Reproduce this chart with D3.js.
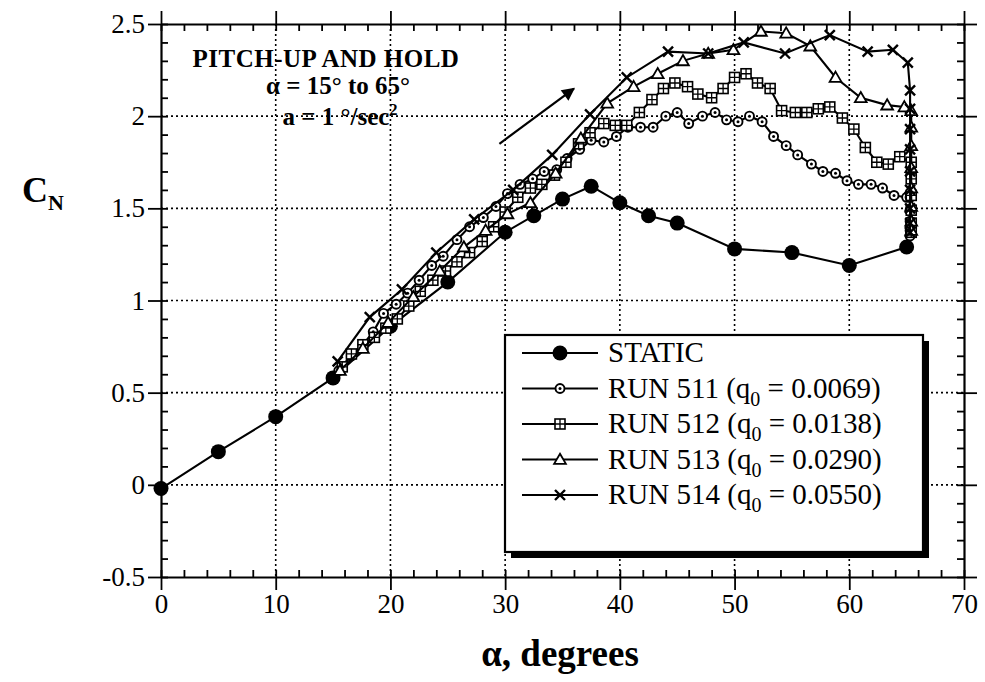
<!DOCTYPE html>
<html>
<head>
<meta charset="utf-8">
<script src="https://cdn.jsdelivr.net/npm/d3@7"></script>
<style>
  body { margin: 0; background: #fff; }
  svg { display: block; font-family: "Liberation Serif", "Times New Roman", serif; }
  .tick text { font-family: "Liberation Serif", "Times New Roman", serif; font-size: 27px; fill: #000; }
  .grid line { stroke: #000; stroke-width: 1.6; stroke-dasharray: 2,3; }
</style>
</head>
<body>
<svg id="chart" width="985" height="682"></svg>
<script>
// ---- data (alpha in degrees, CN) ----
var staticAlpha = [0, 5, 10, 15, 20, 25, 30, 32.5, 35, 37.5, 40, 42.5, 45, 50, 55, 60, 65];
var staticCN    = [-0.02, 0.18, 0.37, 0.58, 0.86, 1.10, 1.37, 1.46, 1.55, 1.62, 1.53, 1.46, 1.42, 1.28, 1.26, 1.19, 1.29];

var run511Alpha = [15.5, 16.6, 17.6, 18.5, 19.4, 20.5, 21.5, 22.5, 23.6, 24.6, 25.8, 26.9, 28.1, 29.2, 30.2, 31.3, 32.4, 33.4, 34.5, 35.4,
                   36.5, 37.5, 38.6, 39.7, 40.7, 41.8, 42.9, 44.0, 45.0, 46.0, 47.2, 48.3, 49.3, 50.3, 51.3, 52.4, 53.4, 54.5, 55.5,
                   56.7, 57.7, 58.8, 59.8, 60.8, 61.9, 62.9, 63.9, 65.0, 65.3, 65.3, 65.3, 65.3, 65.3];
var run511CN    = [0.62, 0.70, 0.76, 0.83, 0.93, 0.98, 1.04, 1.11, 1.19, 1.24, 1.33, 1.40, 1.45, 1.51, 1.58, 1.63, 1.66, 1.70, 1.71, 1.77,
                   1.82, 1.87, 1.86, 1.89, 1.94, 1.94, 1.94, 2.00, 2.02, 1.96, 2.00, 2.02, 1.98, 1.97, 2.00, 1.97, 1.89, 1.84, 1.79,
                   1.74, 1.70, 1.69, 1.65, 1.63, 1.63, 1.61, 1.57, 1.56, 1.56, 1.49, 1.43, 1.38, 1.35];

var run512Alpha = [15.8, 16.6, 17.6, 18.6, 19.6, 20.6, 21.6, 22.6, 23.7, 24.8, 25.8, 26.9, 28.0, 29.0, 30.0, 31.1, 32.2, 33.2, 34.3, 35.3,
                   36.4, 37.4, 38.6, 39.6, 40.6, 41.7, 42.8, 43.8, 44.8, 45.9, 46.8, 48.0, 49.0, 50.0, 51.0, 52.0, 53.1, 54.1, 55.3,
                   56.3, 57.3, 58.3, 59.4, 60.4, 61.4, 62.4, 63.4, 64.4, 65.4, 65.4, 65.4, 65.4, 65.4, 65.4];
var run512CN    = [0.64, 0.71, 0.76, 0.80, 0.85, 0.90, 0.97, 1.05, 1.11, 1.16, 1.21, 1.26, 1.32, 1.40, 1.48, 1.56, 1.61, 1.63, 1.68, 1.75,
                   1.85, 1.91, 1.96, 1.95, 1.95, 2.02, 2.09, 2.15, 2.18, 2.16, 2.12, 2.10, 2.15, 2.21, 2.23, 2.18, 2.15, 2.03, 2.02,
                   2.02, 2.04, 2.05, 1.99, 1.93, 1.83, 1.75, 1.74, 1.78, 1.75, 1.66, 1.57, 1.49, 1.42, 1.37];

var run513Alpha = [15.6, 17.6, 19.8, 22.0, 24.3, 26.4, 28.3, 30.2, 32.2, 34.4, 36.6, 38.9, 41.2, 43.3, 45.5, 47.7, 49.9, 52.3, 54.5,
                   56.6, 58.8, 61.0, 63.3, 64.8, 65.4, 65.4, 65.4, 65.4, 65.4, 65.4, 65.4, 65.4];
var run513CN    = [0.62, 0.74, 0.88, 1.02, 1.16, 1.29, 1.38, 1.47, 1.53, 1.69, 1.88, 2.07, 2.16, 2.23, 2.30, 2.34, 2.36, 2.46, 2.45,
                   2.38, 2.21, 2.10, 2.06, 2.05, 2.03, 1.94, 1.84, 1.72, 1.61, 1.51, 1.43, 1.38];

var run514Alpha = [15.4, 18.2, 21.0, 24.0, 27.3, 30.7, 34.1, 37.4, 40.6, 44.2, 47.7, 50.8, 54.4, 58.3, 61.6, 63.8, 65.1,
                   65.3, 65.3, 65.3, 65.3, 65.3, 65.3, 65.3, 65.3, 65.3];
var run514CN    = [0.67, 0.91, 1.06, 1.26, 1.44, 1.60, 1.79, 2.01, 2.21, 2.35, 2.34, 2.40, 2.34, 2.44, 2.35, 2.36, 2.29,
                   2.14, 2.04, 1.93, 1.82, 1.70, 1.60, 1.50, 1.42, 1.37];

var seriesNames = ["STATIC", "RUN 511 (q", "RUN 512 (q", "RUN 513 (q", "RUN 514 (q"];
var seriesQ0    = ["", "0.0069", "0.0138", "0.0290", "0.0550"];
var xTicks = [0, 10, 20, 30, 40, 50, 60, 70];
var yTicks = [-0.5, 0, 0.5, 1, 1.5, 2, 2.5];

// ---- layout ----
var svg = d3.select("#chart");
var x = d3.scaleLinear().domain([0, 70]).range([161, 964]);
var y = d3.scaleLinear().domain([-0.5, 2.5]).range([577, 24]);

var runs = [
  { name: "static", alpha: staticAlpha, cn: staticCN, marker: "dot" },
  { name: "511", alpha: run511Alpha, cn: run511CN, marker: "circle" },
  { name: "512", alpha: run512Alpha, cn: run512CN, marker: "square" },
  { name: "513", alpha: run513Alpha, cn: run513CN, marker: "triangle" },
  { name: "514", alpha: run514Alpha, cn: run514CN, marker: "cross" }
];

// ---- grid (dotted, at major ticks) ----
var grid = svg.append("g").attr("class", "grid");
grid.selectAll(".gx").data(xTicks.slice(1, -1)).enter().append("line")
  .attr("x1", d => x(d)).attr("x2", d => x(d))
  .attr("y1", y(2.5)).attr("y2", y(-0.5));
grid.selectAll(".gy").data(yTicks.slice(1, -1)).enter().append("line")
  .attr("x1", x(0)).attr("x2", x(70))
  .attr("y1", d => y(d)).attr("y2", d => y(d));

// ---- axes: box on four sides, minor ticks inward, majors crossing ----
var xMinor = d3.range(0, 71, 2);
var yMinor = d3.range(-5, 26).map(d => d / 10);

function styleAxis(g) {
  g.attr("font-family", null).attr("font-size", null);   // let the serif css win
  g.select(".domain").attr("stroke", "#000").attr("stroke-width", 2.2);
  g.selectAll(".tick line").attr("stroke", "#000").attr("stroke-width", 1.8);
  g.selectAll(".tick text").attr("font-family", "Liberation Serif").attr("font-size", 27);
}

svg.append("g").attr("transform", "translate(0," + y(-0.5) + ")")
  .call(d3.axisBottom(x).tickValues(xMinor).tickSize(-7).tickSizeOuter(0).tickFormat(""))
  .call(styleAxis);
svg.append("g").attr("transform", "translate(0," + y(-0.5) + ")")
  .call(d3.axisBottom(x).tickValues(xTicks).tickSize(13).tickSizeOuter(0).tickPadding(4).tickFormat(d => String(d)))
  .call(styleAxis).call(g => g.select(".domain").remove());

svg.append("g").attr("transform", "translate(0," + y(2.5) + ")")
  .call(d3.axisTop(x).tickValues(xMinor).tickSize(-7).tickSizeOuter(0).tickFormat(""))
  .call(styleAxis);
svg.append("g").attr("transform", "translate(0," + y(2.5) + ")")
  .call(d3.axisTop(x).tickValues(xTicks).tickSize(13).tickSizeOuter(0).tickFormat(""))
  .call(styleAxis).call(g => g.select(".domain").remove());

svg.append("g").attr("transform", "translate(" + x(0) + ",0)")
  .call(d3.axisLeft(y).tickValues(yMinor).tickSize(-7).tickSizeOuter(0).tickFormat(""))
  .call(styleAxis);
svg.append("g").attr("transform", "translate(" + x(0) + ",0)")
  .call(d3.axisLeft(y).tickValues(yTicks).tickSize(13).tickSizeOuter(0).tickPadding(3).tickFormat(d => String(d)))
  .call(styleAxis).call(g => g.select(".domain").remove());

svg.append("g").attr("transform", "translate(" + x(70) + ",0)")
  .call(d3.axisRight(y).tickValues(yMinor).tickSize(-7).tickSizeOuter(0).tickFormat(""))
  .call(styleAxis);
svg.append("g").attr("transform", "translate(" + x(70) + ",0)")
  .call(d3.axisRight(y).tickValues(yTicks).tickSize(13).tickSizeOuter(0).tickFormat(""))
  .call(styleAxis).call(g => g.select(".domain").remove());

// ---- markers ----
function drawMarker(g, type, cx, cy) {
  if (type === "dot") {
    g.append("circle").attr("cx", cx).attr("cy", cy).attr("r", 7.5).attr("fill", "#000");
  } else if (type === "circle") {
    g.append("circle").attr("cx", cx).attr("cy", cy).attr("r", 4.5)
      .attr("fill", "#fff").attr("stroke", "#000").attr("stroke-width", 1.9);
    g.append("circle").attr("cx", cx).attr("cy", cy).attr("r", 1.5).attr("fill", "#000");
  } else if (type === "square") {
    g.append("rect").attr("x", cx - 5).attr("y", cy - 5).attr("width", 10).attr("height", 10)
      .attr("fill", "#fff").attr("stroke", "#000").attr("stroke-width", 1.6);
    g.append("path").attr("d", "M" + (cx - 5) + "," + cy + "h10M" + cx + "," + (cy - 5) + "v10")
      .attr("stroke", "#000").attr("stroke-width", 1.3);
  } else if (type === "triangle") {
    g.append("path").attr("d", d3.symbol(d3.symbolTriangle, 60)())
      .attr("transform", "translate(" + cx + "," + (cy + 1) + ")")
      .attr("fill", "#fff").attr("stroke", "#000").attr("stroke-width", 1.8);
  } else if (type === "cross") {
    g.append("path").attr("d", "M" + (cx - 5) + "," + (cy - 5) + "l10,10M" + (cx - 5) + "," + (cy + 5) + "l10,-10")
      .attr("stroke", "#000").attr("stroke-width", 2.4);
  }
}

// ---- curves ----
var line = d3.line().x(d => x(d[0])).y(d => y(d[1]));
var plot = svg.append("g").attr("class", "curves");
runs.forEach(function(r) {
  var pts = r.alpha.map((a, i) => [a, r.cn[i]]);
  plot.append("path").datum(pts).attr("d", line)
    .attr("fill", "none").attr("stroke", "#000").attr("stroke-width", 2.1);
  var mg = plot.append("g");
  pts.forEach(p => drawMarker(mg, r.marker, x(p[0]), y(p[1])));
});

// ---- annotation ----
var note = svg.append("g").attr("font-weight", "bold").attr("font-size", 25).attr("text-anchor", "middle");
note.append("text").attr("x", 326).attr("y", 67).attr("letter-spacing", 0.5).text("PITCH-UP AND HOLD");
note.append("text").attr("x", 338).attr("y", 94).text("α = 15° to 65°");
var acc = note.append("text").attr("x", 340).attr("y", 125);
acc.append("tspan").text("a = 1 °/sec");
acc.append("tspan").attr("dy", -10).attr("font-size", 16).text("2");

// arrow showing the direction of the pitch-up
var arrowPts = [[29.5, 1.85], [36.0, 2.15]];
svg.append("defs").append("marker").attr("id", "head")
  .attr("viewBox", "0 0 10 10").attr("refX", 9).attr("refY", 5)
  .attr("markerWidth", 20).attr("markerHeight", 13).attr("markerUnits", "userSpaceOnUse")
  .attr("orient", "auto")
  .append("path").attr("d", "M0,0L10,5L0,10z").attr("fill", "#000");
svg.append("line")
  .attr("x1", x(arrowPts[0][0])).attr("y1", y(arrowPts[0][1]))
  .attr("x2", x(arrowPts[1][0])).attr("y2", y(arrowPts[1][1]))
  .attr("stroke", "#000").attr("stroke-width", 2.2)
  .attr("marker-end", "url(#head)");

// ---- legend ----
var legend = svg.append("g").attr("transform", "translate(505,335)");
legend.append("rect").attr("x", 6).attr("y", 6).attr("width", 418).attr("height", 217).attr("fill", "#000");
legend.append("rect").attr("width", 418).attr("height", 217).attr("fill", "#fff")
  .attr("stroke", "#000").attr("stroke-width", 2.2);
var rows = legend.selectAll(".row").data(runs).enter().append("g")
  .attr("transform", (d, i) => "translate(0," + (18 + i * 35.5) + ")");
rows.append("line").attr("x1", 17).attr("x2", 93).attr("y1", 0).attr("y2", 0)
  .attr("stroke", "#000").attr("stroke-width", 1.9);
rows.each(function(d) { drawMarker(d3.select(this), d.marker, 55, 0); });
var lt = rows.append("text").attr("x", 103).attr("y", 9).attr("font-size", 29);
lt.append("tspan").text((d, i) => seriesNames[i]);
lt.filter((d, i) => i > 0).append("tspan").attr("dy", 8).attr("font-size", 20).text("0");
lt.filter((d, i) => i > 0).append("tspan").attr("dy", -8).text((d, i) => " = " + seriesQ0[i + 1] + ")");

// ---- axis titles ----
var yt = svg.append("text").attr("x", 22).attr("y", 202).attr("font-weight", "bold").attr("font-size", 36);
yt.append("tspan").text("C");
yt.append("tspan").attr("dy", 8).attr("font-size", 22).text("N");
svg.append("text").attr("x", 560).attr("y", 666).attr("text-anchor", "middle")
  .attr("font-weight", "bold").attr("font-size", 37).text("α,  degrees");
</script>
</body>
</html>
